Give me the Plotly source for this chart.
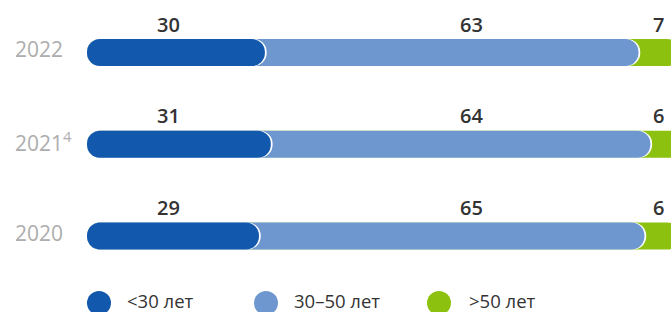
import plotly.graph_objects as go

# ---- data ----
years = ["2022", "2021<sup>4</sup>", "2020"]
under30 = [30, 31, 29]
mid30_50 = [63, 64, 65]
over50 = [7, 6, 6]
series_names = ["<30 лет", "30–50 лет", ">50 лет"]

# ---- style ----
C_DARK = "#1258AC"
C_LIGHT = "#6D97CE"
C_GREEN = "#8CC20F"
C_TEXT = "#333333"
C_YEAR = "#ADADAD"
FONT = "Open Sans"

W, H = 671, 312
ML = 87
PX_PER_UNIT = 5.93
XMAX = (W - ML) / PX_PER_UNIT
ROW_PX = 91.75
Y_TOP_PX = 52.5
ypos = [2, 1, 0]
y_hi = 2 + Y_TOP_PX / ROW_PX
y_lo = 2 - (H - Y_TOP_PX) / ROW_PX
BAR_W = 27 / ROW_PX
DELTA = 0.3      # white rim around rounded ends

cum1 = under30
cum2 = [a + b for a, b in zip(under30, mid30_50)]
cum3 = [a + b + c for a, b, c in zip(under30, mid30_50, over50)]

fig = go.Figure()

def hbar(ends, color):
    fig.add_trace(go.Bar(
        y=ypos, x=ends, base=[0] * len(ends), orientation="h", width=BAR_W,
        marker=dict(color=color, line=dict(width=0), cornerradius="50%"),
        showlegend=False, hoverinfo="skip"))

hbar(cum3, C_GREEN)
hbar([c + DELTA for c in cum2], "#FFFFFF")
hbar(cum2, C_LIGHT)
hbar([c + DELTA for c in cum1], "#FFFFFF")
hbar(cum1, C_DARK)

annotations = []
label_x = [13.66, 64.9, 96.3]
label_dy = 0.31
year_dy = 0.035
for i, yp in enumerate(ypos):
    for j, vals in enumerate([under30, mid30_50, over50]):
        annotations.append(dict(
            x=label_x[j], y=yp + label_dy, xref="x", yref="y",
            text=str(vals[i]), showarrow=False, xanchor="center", yanchor="middle",
            font=dict(family=FONT, size=20, color=C_TEXT, weight=600)))
    annotations.append(dict(
        x=(13 - ML) / (W - ML), y=yp + year_dy, xref="paper", yref="y",
        text=years[i], showarrow=False, xanchor="left", yanchor="middle",
        font=dict(family=FONT, size=21, color=C_YEAR)))

shapes = []
leg_cx = [99, 266, 439]
leg_tx = [125, 292, 467]
leg_y = 303
for cx, tx, name, col in zip(leg_cx, leg_tx, series_names, [C_DARK, C_LIGHT, C_GREEN]):
    px = (cx - ML) / (W - ML)
    py = 1 - leg_y / H
    shapes.append(dict(type="circle", xref="paper", yref="paper",
                       xsizemode="pixel", ysizemode="pixel",
                       xanchor=px, yanchor=py, x0=-12, x1=12, y0=-12, y1=12,
                       fillcolor=col, line=dict(width=0)))
    annotations.append(dict(
        x=(tx - ML) / (W - ML), y=1 - 300 / H, xref="paper", yref="paper",
        text=name, showarrow=False, xanchor="left", yanchor="middle",
        font=dict(family=FONT, size=18.5, color=C_TEXT)))

fig.update_layout(
    width=W, height=H, barmode="overlay",
    margin=dict(l=ML, r=0, t=0, b=0),
    paper_bgcolor="white", plot_bgcolor="white",
    xaxis=dict(range=[0, XMAX], visible=False, fixedrange=True),
    yaxis=dict(range=[y_lo, y_hi], visible=False, fixedrange=True),
    annotations=annotations, shapes=shapes, showlegend=False,
)
fig.write_html("out.html", config={"displayModeBar": False},
               post_script="document.body.style.margin='0px';document.body.style.overflow='hidden';")
